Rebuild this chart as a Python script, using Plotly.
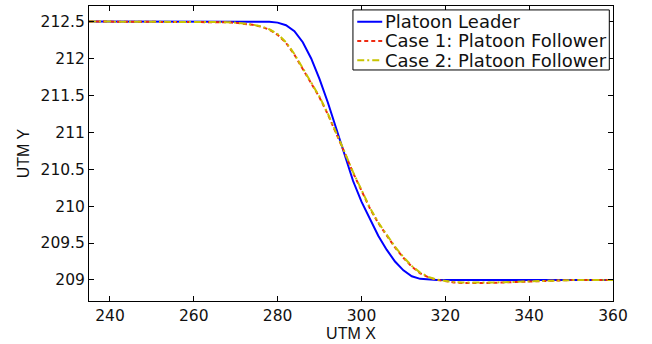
import plotly.graph_objects as go

# Platoon leader trajectory (UTM X, UTM Y)
leader_x = [235, 260, 270, 274, 276, 278, 280, 282, 284, 286, 288, 290, 292, 294, 296, 298, 300, 302, 304, 306, 308, 310, 312, 314, 316, 318, 330, 345, 360]
leader_y = [212.5, 212.5, 212.5, 212.5, 212.5, 212.498, 212.485, 212.45, 212.37, 212.22, 212.0, 211.72, 211.4, 211.05, 210.68, 210.34, 210.06, 209.82, 209.6, 209.41, 209.25, 209.13, 209.05, 209.015, 209.003, 209.0, 209.0, 209.0, 209.0]

# Case 1 follower
case1_x = [235, 250, 260, 262, 264, 266, 268, 270, 272, 274, 276, 278, 280, 282, 284, 286, 288, 290, 292, 294, 296, 298, 300, 302, 304, 306, 308, 310, 312, 314, 316, 318, 320, 322, 324, 326, 328, 330, 334, 338, 342, 346, 350, 360]
case1_y = [212.5, 212.5, 212.5, 212.5, 212.498, 212.495, 212.49, 212.482, 212.47, 212.455, 212.43, 212.39, 212.32, 212.21, 212.05, 211.86, 211.67, 211.47, 211.24, 210.99, 210.72, 210.45, 210.2, 209.97, 209.77, 209.6, 209.44, 209.3, 209.18, 209.09, 209.035, 209.0, 208.98, 208.967, 208.96, 208.958, 208.958, 208.96, 208.966, 208.975, 208.985, 208.993, 208.998, 209.0]

# Case 2 follower
case2_x = [235, 250, 260, 262, 264, 266, 268, 270, 272, 274, 276, 278, 280, 282, 284, 286, 288, 290, 292, 294, 296, 298, 300, 302, 304, 306, 308, 310, 312, 314, 316, 318, 320, 322, 324, 326, 328, 330, 334, 338, 342, 346, 350, 360]
case2_y = [212.5, 212.5, 212.5, 212.5, 212.498, 212.496, 212.491, 212.484, 212.473, 212.458, 212.435, 212.395, 212.33, 212.22, 212.06, 211.87, 211.68, 211.48, 211.25, 211.0, 210.73, 210.46, 210.21, 209.98, 209.78, 209.61, 209.45, 209.31, 209.19, 209.1, 209.04, 209.005, 208.985, 208.972, 208.965, 208.962, 208.962, 208.964, 208.969, 208.977, 208.986, 208.994, 208.998, 209.0]

series_names = ["Platoon Leader", "Case 1: Platoon Follower", "Case 2: Platoon Follower"]
series_colors = ["#0000ff", "#ee2a10", "#c8c400"]
series_dash = ["solid", "4px,3px", "7px,3px,2px,3px"]

x_ticks = [240, 260, 280, 300, 320, 340, 360]
y_ticks = [209, 209.5, 210, 210.5, 211, 211.5, 212, 212.5]
y_tick_labels = ["209", "209.5", "210", "210.5", "211", "211.5", "212", "212.5"]

fig = go.Figure()
for xs, ys, nm, col, dsh in zip([leader_x, case1_x, case2_x], [leader_y, case1_y, case2_y],
                                series_names, series_colors, series_dash):
    fig.add_trace(go.Scatter(x=xs, y=ys, mode="lines", name=nm, showlegend=False,
                             line=dict(color=col, width=2, dash=dsh)))

# Legend box (MATLAB style, compact)
W, H = 652, 344
L, R, T, B = 88.5, 39, 5, 39.3
pw, ph = W - L - R, H - T - B
def px2paper_x(px):
    return (px - L) / pw
def px2paper_y(py):
    return (H - B - py) / ph

shapes = [dict(type="rect", xref="paper", yref="paper",
               x0=px2paper_x(352.7), x1=px2paper_x(609.3),
               y0=px2paper_y(70), y1=px2paper_y(9),
               line=dict(color="black", width=1), fillcolor="white", layer="above")]
annotations = []
row_y = [21, 40.5, 60]
for i, (nm, col, dsh) in enumerate(zip(series_names, series_colors, series_dash)):
    yy = px2paper_y(row_y[i])
    shapes.append(dict(type="line", xref="paper", yref="paper",
                       x0=px2paper_x(357), x1=px2paper_x(382), y0=yy, y1=yy,
                       line=dict(color=col, width=2, dash=dsh), layer="above"))
    annotations.append(dict(text=nm, xref="paper", yref="paper", x=px2paper_x(383),
                            y=yy, xanchor="left", yanchor="middle", showarrow=False,
                            font=dict(family="DejaVu Sans, sans-serif", size=18, color="#111111")))

tick_font = dict(family="DejaVu Sans, sans-serif", size=15.5, color="#111111")
title_font = dict(family="Liberation Sans, Arial, sans-serif", size=16, color="#111111")

fig.update_layout(
    width=W, height=H,
    margin=dict(l=L, r=R, t=T, b=B),
    paper_bgcolor="white", plot_bgcolor="white",
    font=tick_font,
    showlegend=False,
    shapes=shapes,
    annotations=annotations,
    xaxis=dict(range=[235, 360], tickvals=x_ticks, ticks="inside", ticklen=5,
               showline=True, linecolor="black", linewidth=1, mirror="ticks",
               showgrid=False, zeroline=False, tickcolor="black", tickfont=tick_font,
               title=dict(text="UTM X", standoff=3, font=title_font)),
    yaxis=dict(range=[208.715, 212.71], tickvals=y_ticks, ticktext=y_tick_labels,
               ticks="inside", ticklen=5,
               showline=True, linecolor="black", linewidth=1, mirror="ticks",
               showgrid=False, zeroline=False, tickcolor="black", tickfont=tick_font,
               title=dict(text="UTM Y", standoff=6, font=title_font)),
)

fig.write_html("out.html")
